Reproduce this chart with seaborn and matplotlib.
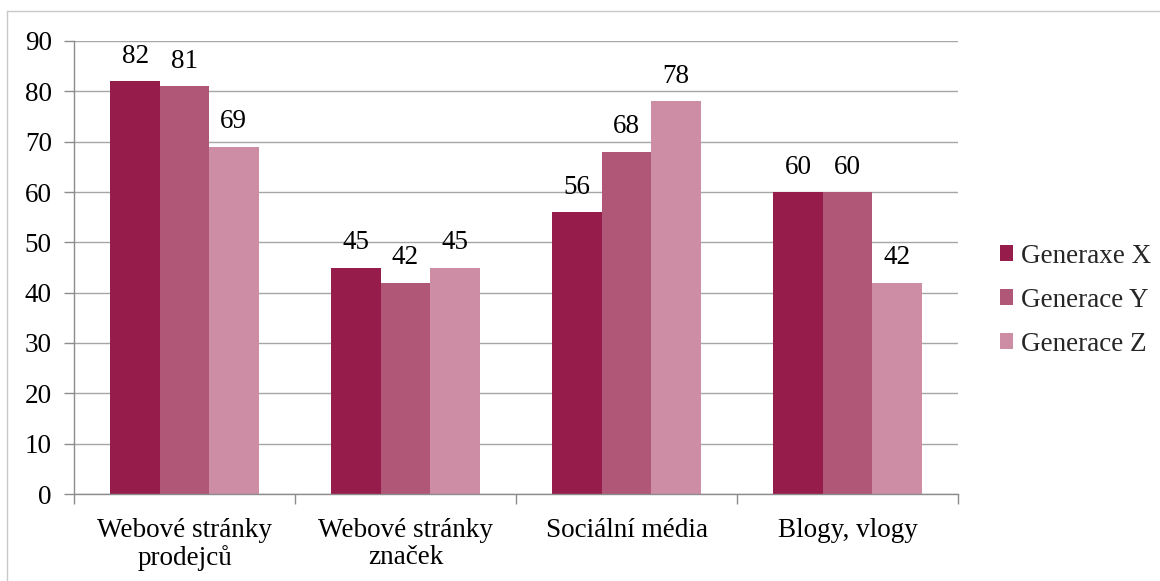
import matplotlib
matplotlib.use("Agg")
import matplotlib.pyplot as plt
from matplotlib.lines import Line2D
import seaborn as sns
import pandas as pd

categories = ["Webové stránky\nprodejců", "Webové stránky\nznaček", "Sociální média", "Blogy, vlogy"]
series_names = ["Generaxe X", "Generace Y", "Generace Z"]
gen_x = [82, 45, 56, 60]
gen_y = [81, 42, 68, 60]
gen_z = [69, 45, 78, 42]
colors = ["#961D4B", "#B05677", "#CC8DA5"]
y_ticks = [0, 10, 20, 30, 40, 50, 60, 70, 80, 90]

FS = 19.5

rows = []
for name, vals in zip(series_names, [gen_x, gen_y, gen_z]):
    for cat, v in zip(categories, vals):
        rows.append({"kategorie": cat, "skupina": name, "hodnota": v})
df = pd.DataFrame(rows)

sns.set_theme(style="white")
plt.rcParams["font.family"] = ["Liberation Serif", "DejaVu Serif"]

fig = plt.figure(figsize=(11.6, 5.81), dpi=100)
ax = fig.add_axes([74 / 1160, 87 / 581, 884 / 1160, 453 / 581])

sns.barplot(data=df, x="kategorie", y="hodnota", hue="skupina",
            order=categories, hue_order=series_names, palette=colors,
            width=0.67, gap=0, saturation=1, ax=ax, linewidth=0,
            errorbar=None)

for cont in ax.containers:
    ax.bar_label(cont, fmt="%g", padding=9, fontsize=FS, color="black")

ax.set_ylim(0, 90)
ax.set_yticks(y_ticks)
ax.set_xlim(-0.5, len(categories) - 0.5)
ax.set_xlabel("")
ax.set_ylabel("")
ax.yaxis.grid(True, color="#A6A6A6", linewidth=1)
ax.set_axisbelow(True)

for side in ["top", "right"]:
    ax.spines[side].set_visible(False)
for side in ["left", "bottom"]:
    ax.spines[side].set_color("#8C8C8C")
    ax.spines[side].set_linewidth(1)

ax.tick_params(axis="y", which="major", left=True, length=7, width=1,
               color="#8C8C8C", labelsize=FS, labelcolor="black", pad=9)
ax.tick_params(axis="x", which="major", bottom=False, labelsize=FS,
               labelcolor="black", pad=11)
ax.set_xticks(range(len(categories)))
ax.set_xticklabels(categories, linespacing=1.1)
ax.set_xticks([i - 0.5 for i in range(len(categories) + 1)], minor=True)
ax.tick_params(axis="x", which="minor", bottom=True, length=7, width=1,
               color="#8C8C8C")

leg = ax.legend(loc="center left", bbox_to_anchor=(1.035, 0.428), frameon=False,
                fontsize=FS, handlelength=0.5, handleheight=0.5,
                handletextpad=0.3, labelspacing=0.7, borderaxespad=0)

# light frame around the chart
fig.add_artist(Line2D([7 / 1160, 7 / 1160], [0, 1 - 11 / 581],
                      transform=fig.transFigure, color="#C8C8C8", linewidth=1))
fig.add_artist(Line2D([7 / 1160, 1], [1 - 11 / 581, 1 - 11 / 581],
                      transform=fig.transFigure, color="#C8C8C8", linewidth=1))

fig.savefig("out.png", dpi=100)
